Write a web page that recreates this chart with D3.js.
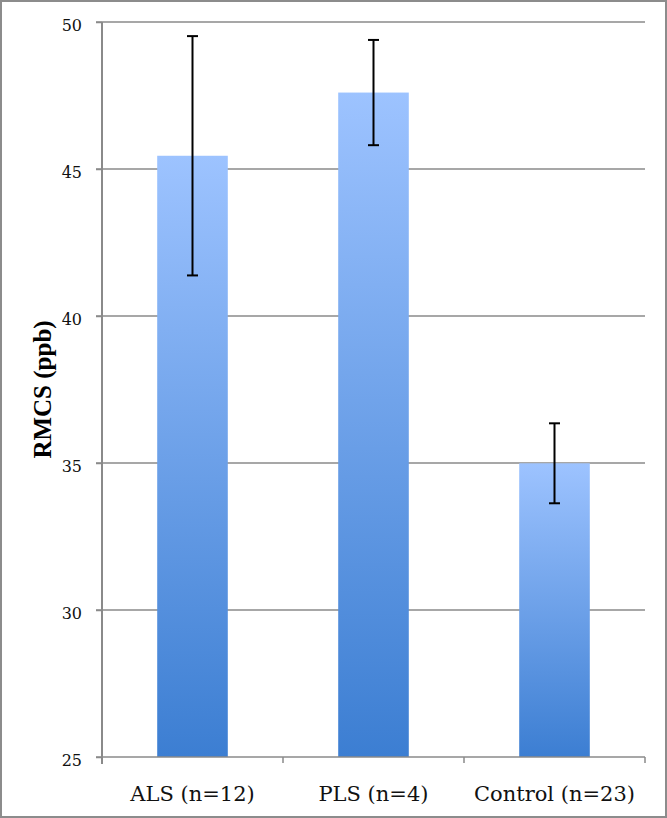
<!DOCTYPE html>
<html>
<head>
<meta charset="utf-8">
<script src="https://cdn.jsdelivr.net/npm/d3@7"></script>
<style>
  body { margin: 0; background: #fff; }
  svg { display: block; }
</style>
</head>
<body>
<svg id="chart"></svg>
<script>
"use strict";

// data
const categories = ["ALS (n=12)", "PLS (n=4)", "Control (n=23)"];
const means = [45.45, 47.6, 34.99];
const errors = [4.07, 1.79, 1.36];
const yTicks = [25, 30, 35, 40, 45, 50];

const width = 667;
const height = 818;
const margin = { top: 22, right: 22, bottom: 61, left: 102 };
const innerW = width - margin.left - margin.right;
const innerH = height - margin.top - margin.bottom;

const rows = categories.map((c, i) => ({ cat: c, mean: means[i], err: errors[i] }));

const svg = d3.select("#chart").attr("width", width).attr("height", height);

// outer frame
svg.append("rect")
  .attr("x", 1).attr("y", 1)
  .attr("width", width - 2).attr("height", height - 2)
  .attr("fill", "#fff")
  .attr("stroke", "#8c8c8c")
  .attr("stroke-width", 2);

const grad = svg.append("defs").append("linearGradient")
  .attr("id", "barGrad")
  .attr("x1", 0).attr("y1", 0).attr("x2", 0).attr("y2", 1);
grad.append("stop").attr("offset", "0%").attr("stop-color", "#9dc3ff");
grad.append("stop").attr("offset", "100%").attr("stop-color", "#3c7ed2");

const x = d3.scaleBand()
  .domain(categories)
  .range([0, innerW])
  .padding(0);

const barW = x.step() * 0.39;

const y = d3.scaleLinear()
  .domain([25, 50])
  .range([innerH, 0]);

const g = svg.append("g")
  .attr("transform", `translate(${margin.left},${margin.top})`);

// gridlines
g.selectAll("line.grid")
  .data(yTicks.slice(1))
  .join("line")
  .attr("class", "grid")
  .attr("x1", -6).attr("x2", innerW)
  .attr("y1", d => y(d)).attr("y2", d => y(d))
  .attr("stroke", "#8a8a8a")
  .attr("stroke-width", 1.5);

// Y axis labels
const yAxis = d3.axisLeft(y).tickValues(yTicks).tickSize(6).tickPadding(14);
const yg = g.append("g").call(yAxis);
yg.select(".domain").remove();
yg.selectAll(".tick line").attr("stroke", "#8a8a8a").attr("stroke-width", 1.5);
yg.selectAll(".tick text")
  .attr("font-family", "DejaVu Serif, serif")
  .attr("font-size", 16)
  .attr("dy", "0.55em")
  .attr("fill", "#111");

// bars
g.selectAll("rect.bar")
  .data(rows)
  .join("rect")
  .attr("class", "bar")
  .attr("x", d => x(d.cat) + (x.bandwidth() - barW) / 2)
  .attr("y", d => y(d.mean))
  .attr("width", barW)
  .attr("height", d => innerH - y(d.mean))
  .attr("fill", "url(#barGrad)");

// X axis
const xg = g.append("g").attr("transform", `translate(0,${innerH})`);
xg.append("line")
  .attr("x1", -6).attr("x2", innerW)
  .attr("stroke", "#8a8a8a").attr("stroke-width", 1.5);
xg.selectAll("line.xtick")
  .data(categories)
  .join("line")
  .attr("class", "xtick")
  .attr("x1", d => x(d) + x.step()).attr("x2", d => x(d) + x.step())
  .attr("y1", 0).attr("y2", 6)
  .attr("stroke", "#8a8a8a").attr("stroke-width", 1.5);
xg.selectAll("text")
  .data(categories)
  .join("text")
  .attr("x", d => x(d) + x.bandwidth() / 2)
  .attr("y", 44)
  .attr("text-anchor", "middle")
  .attr("font-family", "DejaVu Serif, serif")
  .attr("font-size", 21)
  .attr("fill", "#111")
  .text(d => d);

// y axis line
g.append("line")
  .attr("x1", 0).attr("x2", 0)
  .attr("y1", 0).attr("y2", innerH + 7)
  .attr("stroke", "#8a8a8a").attr("stroke-width", 2);

// error bars
const eb = g.selectAll("g.err").data(rows).join("g").attr("class", "err")
  .attr("transform", d => `translate(${x(d.cat) + x.bandwidth() / 2},0)`);
eb.append("line")
  .attr("y1", d => y(d.mean + d.err)).attr("y2", d => y(d.mean - d.err))
  .attr("stroke", "#000").attr("stroke-width", 2);
eb.append("line")
  .attr("x1", -5.5).attr("x2", 5.5)
  .attr("y1", d => y(d.mean + d.err)).attr("y2", d => y(d.mean + d.err))
  .attr("stroke", "#000").attr("stroke-width", 2);
eb.append("line")
  .attr("x1", -5.5).attr("x2", 5.5)
  .attr("y1", d => y(d.mean - d.err)).attr("y2", d => y(d.mean - d.err))
  .attr("stroke", "#000").attr("stroke-width", 2);

// y axis title
svg.append("text")
  .attr("transform", `translate(51,${margin.top + innerH / 2}) rotate(-90)`)
  .attr("text-anchor", "middle")
  .attr("font-family", "Liberation Serif, serif")
  .attr("font-weight", "bold")
  .attr("font-size", 25)
  .attr("fill", "#000")
  .text("RMCS (ppb)");
</script>
</body>
</html>
